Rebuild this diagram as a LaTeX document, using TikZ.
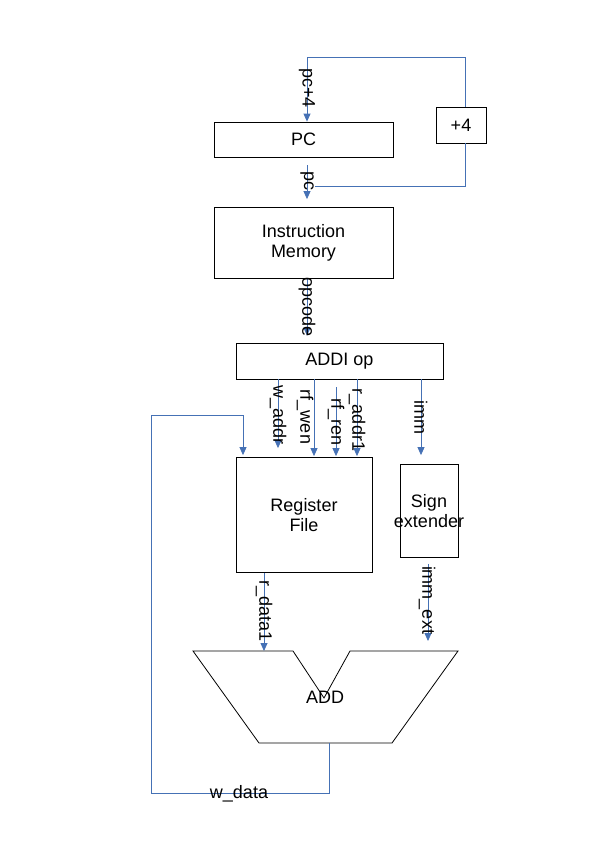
\documentclass[tikz,border=0pt]{standalone}
\usepackage{fontspec}
\setmainfont{Liberation Sans}
\usetikzlibrary{arrows.meta}
\definecolor{wirec}{HTML}{4571B5}
\begin{document}
\begin{tikzpicture}[x=1pt,y=-1pt,
  box/.style={draw=black, line width=0.8pt, inner sep=0pt, align=center,
    font=\fontsize{18}{20}\selectfont},
  wire/.style={draw=wirec, line width=0.8pt},
  arr/.style={wire, -{Triangle[width=7pt,length=8pt]}},
  lab/.style={rotate=-90, inner sep=0pt, font=\fontsize{18}{20}\selectfont},
  hlab/.style={inner sep=0pt, font=\fontsize{18}{20}\selectfont}]
\useasboundingbox (0,0) rectangle (600,849);

% boxes
\node[box, minimum width=179pt, minimum height=35pt] (pc) at (303.5,139.5) {PC};
\node[box, minimum width=50pt, minimum height=36pt] (p4) at (461,125) {+4};
\node[box, minimum width=179pt, minimum height=71pt] (im) at (303.5,243) {Instruction\\Memory};
\node[box, minimum width=207pt, minimum height=36pt] (addi) at (339.5,361) {ADDI op};
\node[box, minimum width=136pt, minimum height=115pt] (rf) at (304,515) {Register\\File};
\node[box, minimum width=58pt, minimum height=93pt] (se) at (429,511) {Sign\\\makebox[0pt]{extender}};

% ADD trapezoid
\coordinate (a1) at (193,651);
\coordinate (a2) at (293,651);
\coordinate (a3) at (324,698);
\coordinate (a4) at (350,651);
\coordinate (a5) at (458,651);
\coordinate (a6) at (392,743);
\coordinate (a7) at (259,743);
\draw[black, line width=0.8pt] (a1) -- (a2) -- (a3) -- (a4) -- (a5) -- (a6) -- (a7) -- cycle;
\node[hlab] (add) at (325,697) {ADD};
\coordinate (addtop) at (325,651);
\coordinate (addb) at (329,743);

% x positions of wires
\coordinate (t1) at (465,57);
\coordinate (t2) at (307,57);
\coordinate (t3) at (315,186);
\coordinate (xw) at (278,0);
\coordinate (xwen) at (314,0);
\coordinate (xren) at (336,0);
\coordinate (xra) at (357,0);
\coordinate (ximm) at (421,0);
\coordinate (xrd) at (264,0);
\coordinate (xext) at (428,0);
\coordinate (fb1) at (151,793);
\coordinate (fb2) at (243,415);

% connectors
\draw[arr] (p4.north -| t1) |- (t2) -- (t2 |- pc.north);
\draw[arr, shorten <=8pt, shorten >=8pt] (pc.south -| t2) -- (t2 |- im.north);
\draw[wire] (p4.south -| t1) |- (t3);
\draw[arr, shorten >=7pt] (im.south -| t2) -- (t2 |- addi.north);
\draw[arr, shorten >=9pt] (addi.south -| xw) -- (xw |- rf.north);
\draw[arr, shorten >=1pt] (addi.south -| xwen) -- (xwen |- rf.north);
\draw[arr, shorten <=8pt, shorten >=1pt] (addi.south -| xren) -- (xren |- rf.north);
\draw[arr, shorten >=1pt] (addi.south -| xra) -- (xra |- rf.north);
\draw[arr, shorten >=9pt] (addi.south -| ximm) -- (ximm |- se.north);
\draw[arr] (rf.south -| xrd) -- (xrd |- addtop);
\draw[arr, shorten <=6pt, shorten >=10pt] (se.south -| xext) -- (xext |- addtop);
\draw[arr, shorten >=2pt] (addb) |- (fb1) |- (fb2) -- (fb2 |- rf.north);

% labels
\node[lab] (lpc4) at (307,88) {pc+4};
\node[lab] (lpc) at (307,181) {pc};
\node[lab] (lop) at (307,307) {opcode};
\node[lab] (lwa) at (278,415) {w\_addr};
\node[lab] (lwen) at (305,417) {rf\_wen};
\node[lab] (lren) at (336,422) {rf\_ren};
\node[lab] (lra) at (357,420) {r\_addr1};
\node[lab] (limm) at (421,417) {imm};
\node[lab] (lrd) at (264,611) {r\_data1};
\node[lab] (lext) at (427,600) {imm\_ext};
\node[hlab] (lwd) at (239,794) {w\_data};
\end{tikzpicture}
\end{document}
